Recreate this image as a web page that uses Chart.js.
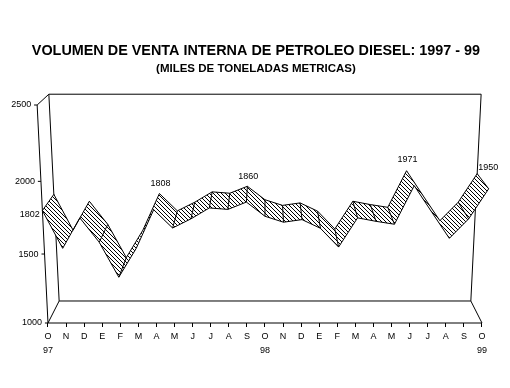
<!DOCTYPE html>
<html>
<head>
<meta charset="utf-8">
<title>Volumen de venta interna de petroleo diesel</title>
<script src="https://cdn.jsdelivr.net/npm/chart.js@4"></script>
<style>
  html, body { margin: 0; padding: 0; background: #fff; }
  canvas { display: block; }
</style>
</head>
<body>
<canvas id="myChart" width="510" height="388"></canvas>
<script>
// Data
const months = ["O","N","D","E","F","M","A","M","J","J","A","S","O","N","D","E","F","M","A","M","J","J","A","S","O"];
const years = { 0: "97", 12: "98", 24: "99" };
const ventas = [1802,1540,1752,1583,1335,1540,1808,1682,1745,1820,1810,1860,1763,1722,1740,1680,1549,1752,1728,1708,1971,1790,1610,1745,1950];
const yTicks = [1000,1500,2000,2500];
const labelled = [0,6,11,20,24];
const connectors = [0,3,4,7,8,9,10,11,12,13,14,15,16,17,18,19,23,24];

// label offset from the back edge of the ribbon
const labelOffset = { 0: [-24,20], 6: [1,-10], 11: [1,-10], 20: [1,-11], 24: [11,-6] };

// 3D look: depth 0 = front plane, depth 1 = back wall
function project(i, v, depth) {
  const t = (v - 1000) / 1500;
  const tp = 0.924 * t + 0.076 * t * t;
  const w = depth ? 0.9486 : 1;
  return {
    x: 12 + (i - 12) * w * (1 + 0.05 * tp),
    y: 1000 + 1500 * tp * w + 151.4 * depth
  };
}

const gap = { x: NaN, y: NaN };
const last = months.length - 1;

// walls and floor
const frame = [
  project(0,2500,0), project(0,1000,0), project(last,1000,0), project(last,1000,1), project(0,1000,1), project(0,1000,0), gap,
  project(0,2500,0), project(0,2500,1), project(last,2500,1), project(last,1000,1), gap,
  project(0,2500,1), project(0,1000,1), gap
];
yTicks.forEach(function (v) {
  const p = project(0, v, 0);
  frame.push(p, { x: p.x - 0.17, y: p.y }, gap);
});

const front = ventas.map((v, i) => project(i, v, 0));
const back = ventas.map((v, i) => project(i, v, 1));

const edges = [];
connectors.forEach(function (i) {
  edges.push(front[i], back[i], gap);
});

// hatch fill
function hatch() {
  const c = document.createElement("canvas");
  c.width = 4;
  c.height = 4;
  const g = c.getContext("2d");
  g.fillStyle = "#fff";
  g.fillRect(0, 0, 4, 4);
  g.fillStyle = "#000";
  for (let i = 0; i < 4; i++) g.fillRect(i, i, 1, 1);
  return g.createPattern(c, "repeat");
}
const pattern = hatch();

function lineSet(data, order) {
  return { data: data, order: order, borderColor: "#000", borderWidth: 1, pointRadius: 0, tension: 0, fill: false, clip: false };
}

const datasets = [lineSet(frame, 4), lineSet(front, 1), lineSet(back, 1), lineSet(edges, 1)];
for (let i = 0; i < last; i++) {
  datasets.push({
    data: [front[i], front[i + 1], back[i + 1], back[i], front[i]],
    order: 3,
    borderWidth: 0,
    pointRadius: 0,
    tension: 0,
    backgroundColor: pattern,
    fill: "shape",
    clip: false
  });
}

const textPlugin = {
  id: "textPlugin",
  afterDraw(chart) {
    const ctx = chart.ctx;
    const sx = chart.scales.x;
    const sy = chart.scales.y;
    ctx.save();
    ctx.fillStyle = "#000";
    ctx.font = "9px 'Liberation Sans', Arial, sans-serif";
    ctx.textBaseline = "middle";
    ctx.textAlign = "right";
    yTicks.forEach(function (v) {
      const p = project(0, v, 0);
      ctx.fillText(String(v), sx.getPixelForValue(p.x) - 6, sy.getPixelForValue(p.y));
    });
    ctx.textAlign = "center";
    labelled.forEach(function (i) {
      const off = labelOffset[i];
      ctx.fillText(String(ventas[i]), sx.getPixelForValue(back[i].x) + off[0], sy.getPixelForValue(back[i].y) + off[1]);
    });
    ctx.restore();
  }
};

const ctx = document.getElementById("myChart");
new Chart(ctx, {
  type: "line",
  data: { datasets: datasets },
  plugins: [textPlugin],
  options: {
    responsive: false,
    animation: false,
    layout: { padding: { left: 11.83, right: 9.92, top: 0, bottom: 0 } },
    plugins: {
      legend: { display: false },
      tooltip: { enabled: false },
      filler: { drawTime: "beforeDatasetDraw" },
      title: {
        display: true,
        text: "VOLUMEN DE VENTA INTERNA DE PETROLEO DIESEL: 1997 - 99",
        color: "#000",
        font: { family: "'Liberation Sans', Arial, sans-serif", size: 14.4, weight: "bold", lineHeight: 1.2 },
        padding: { top: 42.4, bottom: 2 }
      },
      subtitle: {
        display: true,
        text: "(MILES DE TONELADAS METRICAS)",
        color: "#000",
        font: { family: "'Liberation Sans', Arial, sans-serif", size: 11.5, weight: "bold", lineHeight: 1.2 },
        padding: { top: 0, bottom: 15 }
      }
    },
    scales: {
      x: {
        type: "linear",
        min: -2,
        max: 25,
        afterBuildTicks(scale) {
          scale.ticks = months.map((m, i) => ({ value: i }));
        },
        afterFit(scale) {
          scale.height = 65;
        },
        border: { display: false },
        grid: { drawOnChartArea: false, tickLength: 4, tickColor: "#000", color: "#000" },
        ticks: {
          autoSkip: false,
          maxRotation: 0,
          padding: 3,
          color: "#000",
          font: { family: "'Liberation Sans', Arial, sans-serif", size: 9, lineHeight: 1.55 },
          callback(value) {
            return years[value] ? [months[value], years[value]] : months[value];
          }
        }
      },
      y: {
        display: false,
        min: 1000,
        max: 2600
      }
    }
  }
});
</script>
</body>
</html>
